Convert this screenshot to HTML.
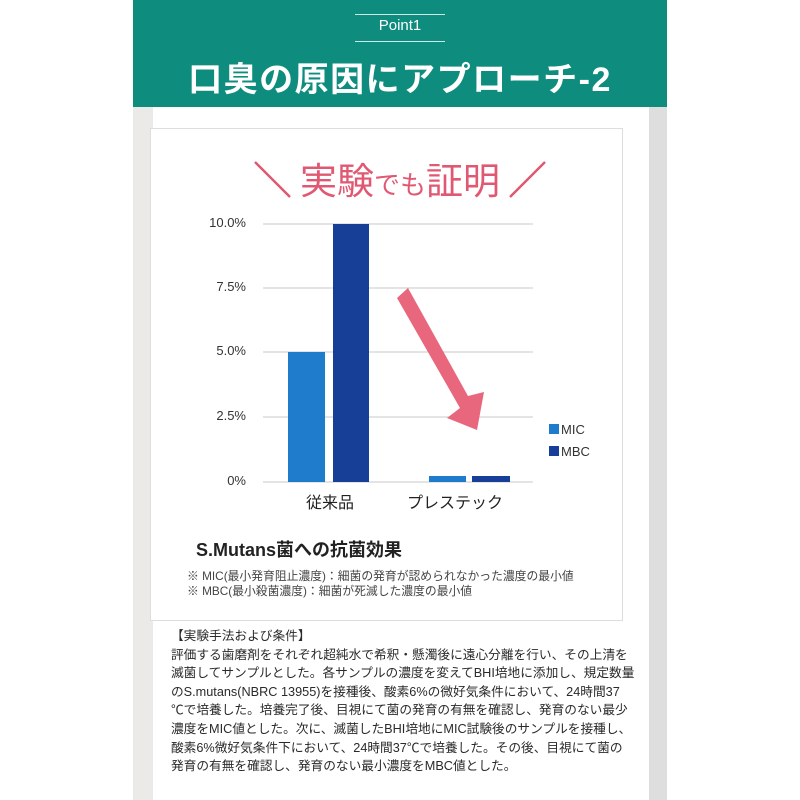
<!DOCTYPE html>
<html><head><meta charset="utf-8"><style>
body{margin:0;width:800px;height:800px;background:#fff;position:relative;overflow:hidden;font-family:"Liberation Sans","Noto Sans CJK JP",sans-serif}
.a{position:absolute}
</style></head><body>
<div class="a" style="left:133px;top:0;width:534px;height:800px;background:#ece9e9"></div>
<div class="a" style="left:153px;top:107px;width:496px;height:693px;background:#fff"></div>
<div class="a" style="left:649px;top:107px;width:18px;height:693px;background:#dedede"></div>
<div class="a" style="left:133px;top:0;width:534px;height:107px;background:#0e8c7e"></div>
<div class="a" style="left:355px;top:14px;width:90px;height:1px;background:#cfe9e5"></div>
<div class="a" style="left:355px;top:41px;width:90px;height:1px;background:#cfe9e5"></div>
<div class="a" style="left:355px;top:17px;width:90px;text-align:center;color:#fff;font-size:15px">Point1</div>
<div class="a" style="left:133px;top:52px;width:534px;text-align:center;color:#fff;font-size:34px;font-weight:bold;letter-spacing:1.5px">口臭の原因にアプローチ-2</div>
<div class="a" style="left:150px;top:128px;width:471px;height:491px;border:1px solid #ddd;background:#fff"></div>
<svg class="a" style="left:0;top:0" width="800" height="800">
<g stroke="#e05872" stroke-width="2.5"><line x1="255" y1="162" x2="290" y2="197"/><line x1="545" y1="162" x2="510" y2="197"/></g>
<text x="400" y="194" text-anchor="middle" fill="#e05872" font-size="37" font-family="Noto Sans CJK JP,sans-serif">実験<tspan font-size="26">でも</tspan>証明</text>
<g stroke="#c8c8c8" stroke-width="1"><line x1="263" y1="224" x2="533" y2="224"/><line x1="263" y1="288" x2="533" y2="288"/><line x1="263" y1="352" x2="533" y2="352"/><line x1="263" y1="417" x2="533" y2="417"/><line x1="263" y1="482" x2="533" y2="482"/></g>
<g font-size="13" fill="#333" text-anchor="end"><text x="246" y="227">10.0%</text><text x="246" y="291">7.5%</text><text x="246" y="355">5.0%</text><text x="246" y="420">2.5%</text><text x="246" y="485">0%</text></g>
<rect x="288" y="352" width="37" height="130" fill="#1f7bcc"/><rect x="333" y="224" width="36" height="258" fill="#173f98"/>
<rect x="429" y="476" width="37" height="6" fill="#1f7bcc"/><rect x="472" y="476" width="38" height="6" fill="#173f98"/>
<polygon points="397,298 408,288 468,396 484,392 477,430 447,418 460,408" fill="#e8677d"/>
<rect x="549" y="424" width="10" height="10" fill="#1f7bcc"/><rect x="549" y="446" width="10" height="10" fill="#173f98"/>
<g font-size="13" fill="#333"><text x="561" y="434">MIC</text><text x="561" y="456">MBC</text></g>
<g font-size="16" fill="#222" text-anchor="middle"><text x="330" y="508">従来品</text><text x="455" y="508">プレステック</text></g>
</svg>
<div class="a" style="left:196px;top:536px;font-size:18px;font-weight:bold;color:#222">S.Mutans菌への抗菌効果</div>
<div class="a" style="left:187px;top:569px;font-size:11.8px;color:#444;line-height:15px">※ MIC(最小発育阻止濃度)：細菌の発育が認められなかった濃度の最小値<br>※ MBC(最小殺菌濃度)：細菌が死滅した濃度の最小値</div>
<div class="a" style="left:171px;top:627px;width:470px;font-size:12.7px;color:#2a2a2a;line-height:18.6px;white-space:nowrap">【実験手法および条件】<br>評価する歯磨剤をそれぞれ超純水で希釈・懸濁後に遠心分離を行い、その上清を<br>滅菌してサンプルとした。各サンプルの濃度を変えてBHI培地に添加し、規定数量<br>のS.mutans(NBRC 13955)を接種後、酸素6%の微好気条件において、24時間37<br>℃で培養した。培養完了後、目視にて菌の発育の有無を確認し、発育のない最少<br>濃度をMIC値とした。次に、滅菌したBHI培地にMIC試験後のサンプルを接種し、<br>酸素6%微好気条件下において、24時間37℃で培養した。その後、目視にて菌の<br>発育の有無を確認し、発育のない最小濃度をMBC値とした。</div>
</body></html>
